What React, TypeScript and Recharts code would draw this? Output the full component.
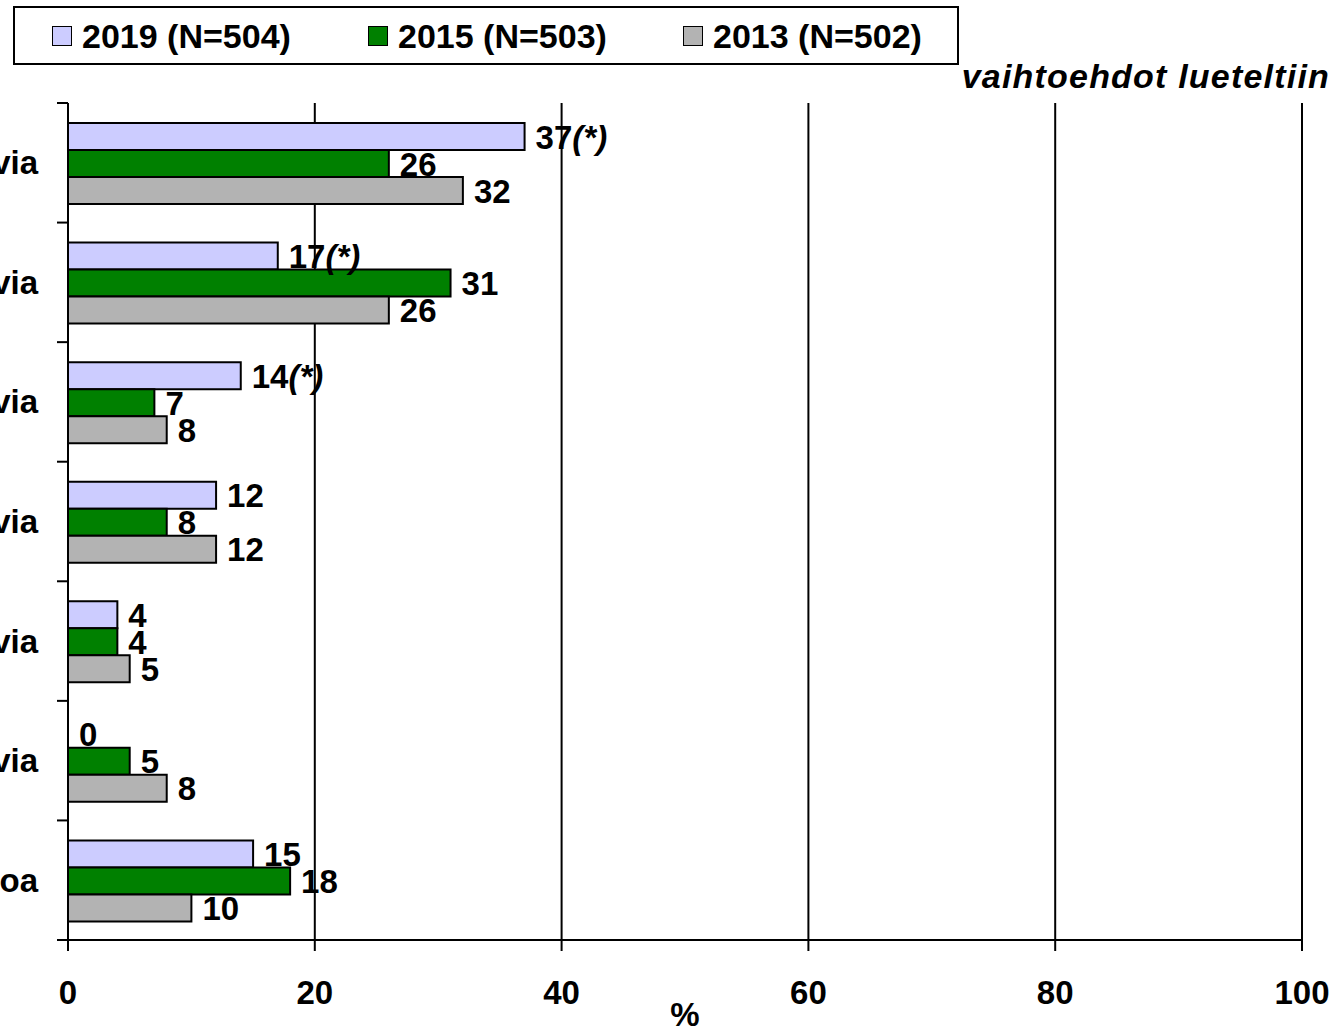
import React from 'react';
import { BarChart, Bar, XAxis, YAxis, CartesianGrid, Cell } from 'recharts';

const categoryKeys = ['c1', 'c2', 'c3', 'c4', 'c5', 'c6', 'c7'];
const categoryLabels = ['via', 'via', 'via', 'via', 'via', 'via', 'oa'];
const values2019 = [37, 17, 14, 12, 4, 0, 15];
const values2015 = [26, 31, 7, 8, 4, 5, 18];
const values2013 = [32, 26, 8, 12, 5, 8, 10];
const star2019 = [true, true, true, false, false, false, false];
const xTicks = [0, 20, 40, 60, 80, 100];

const seriesNames = ['2019 (N=504)', '2015 (N=503)', '2013 (N=502)'];
const seriesColors = ['#CCCCFF', '#008000', '#B3B3B3'];
const seriesKeys = ['v2019', 'v2015', 'v2013'];

const data = categoryKeys.map((k, i) => ({
  cat: k,
  v2019: values2019[i],
  v2015: values2015[i],
  v2013: values2013[i],
}));

const W = 1344;
const H = 1028;
const MARGIN = { top: 103, right: 42, bottom: 0, left: 0 };
const XAXIS_H = 88;
const FONT = '"Liberation Sans", Arial, sans-serif';
const FS = 33;

const plotH = H - MARGIN.top - MARGIN.bottom - XAXIS_H;
const band = plotH / categoryKeys.length;

const YTick = (props: any) => {
  const { x, y, payload } = props;
  const idx = payload.index;
  const axisX = x + 30;
  return (
    <g>
      <text x={x} y={y} textAnchor="end" dominantBaseline="central" fontFamily={FONT} fontWeight="bold" fontSize={FS} fill="#000">
        {categoryLabels[idx]}
      </text>
      <line x1={axisX - 11} x2={axisX} y1={y - band / 2} y2={y - band / 2} stroke="#000" strokeWidth={2} />
      {idx === categoryKeys.length - 1 && (
        <line x1={axisX - 11} x2={axisX} y1={y + band / 2} y2={y + band / 2} stroke="#000" strokeWidth={2} />
      )}
    </g>
  );
};

const makeLabel = (values: number[], stars: boolean[] | null) => (props: any) => {
  const { x, y, width, height, index } = props;
  const value = values[index];
  const star = stars ? stars[index] : false;
  const w = value === 0 ? 0 : width;
  return (
    <text x={x + w + 11} y={y + height / 2} dominantBaseline="central" fontFamily={FONT} fontWeight="bold" fontSize={FS} fill="#000">
      <tspan>{String(value)}</tspan>
      {star && <tspan fontStyle="italic">(*)</tspan>}
    </text>
  );
};

const seriesValues = [values2019, values2015, values2013];
const squareX = [37, 353, 668];

const LegendBox = () => (
  <div style={{ position: 'absolute', left: 13, top: 6, width: 946, height: 59, border: '2px solid #000', boxSizing: 'border-box', background: '#fff' }}>
    {seriesNames.map((n, i) => (
      <div key={n} style={{ position: 'absolute', left: squareX[i], top: 0, height: 55, display: 'flex', alignItems: 'center' }}>
        <div style={{ width: 20, height: 20, background: seriesColors[i], border: '1.5px solid #000', boxSizing: 'border-box' }} />
        <span style={{ marginLeft: 10, fontFamily: FONT, fontWeight: 'bold', fontSize: 34, color: '#000', lineHeight: '1' }}>{n}</span>
      </div>
    ))}
  </div>
);

export default function App() {
  return (
    <div style={{ position: 'absolute', left: 0, top: 0, width: W, height: H, background: '#fff' }}>
      <BarChart width={W} height={H} data={data} layout="vertical" margin={MARGIN} barCategoryGap={20} barGap={0}>
        <CartesianGrid horizontal={false} vertical={true} stroke="#000" strokeWidth={2} />
        <XAxis
          type="number"
          domain={[0, 100]}
          ticks={xTicks}
          height={XAXIS_H}
          tickSize={11}
          tickMargin={30}
          axisLine={{ stroke: '#000', strokeWidth: 2 }}
          tickLine={{ stroke: '#000', strokeWidth: 2 }}
          tick={{ fontFamily: FONT, fontWeight: 'bold', fontSize: FS, fill: '#000' }}
          label={{ value: '%', position: 'insideBottom', offset: 2, fontFamily: FONT, fontWeight: 'bold', fontSize: FS, fill: '#000' }}
        />
        <YAxis
          type="category"
          dataKey="cat"
          width={68}
          tickSize={0}
          tickMargin={30}
          axisLine={{ stroke: '#000', strokeWidth: 2 }}
          tickLine={false}
          tick={<YTick />}
          interval={0}
        />
        {seriesKeys.map((k, i) => (
          <Bar
            key={k}
            dataKey={k}
            name={seriesNames[i]}
            fill={seriesColors[i]}
            stroke="#000"
            strokeWidth={2}
            minPointSize={1}
            isAnimationActive={false}
            label={makeLabel(seriesValues[i], i === 0 ? star2019 : null)}
          >
            {seriesValues[i].map((v, j) => (
              <Cell key={j} fill={v === 0 ? 'none' : seriesColors[i]} stroke={v === 0 ? 'none' : '#000'} />
            ))}
          </Bar>
        ))}
      </BarChart>
      <LegendBox />
      <div style={{ position: 'absolute', right: 14, top: 59, fontFamily: FONT, fontWeight: 'bold', fontStyle: 'italic', fontSize: 34, lineHeight: '34px', letterSpacing: '1.2px', color: '#000', whiteSpace: 'nowrap' }}>
        vaihtoehdot lueteltiin
      </div>
    </div>
  );
}
